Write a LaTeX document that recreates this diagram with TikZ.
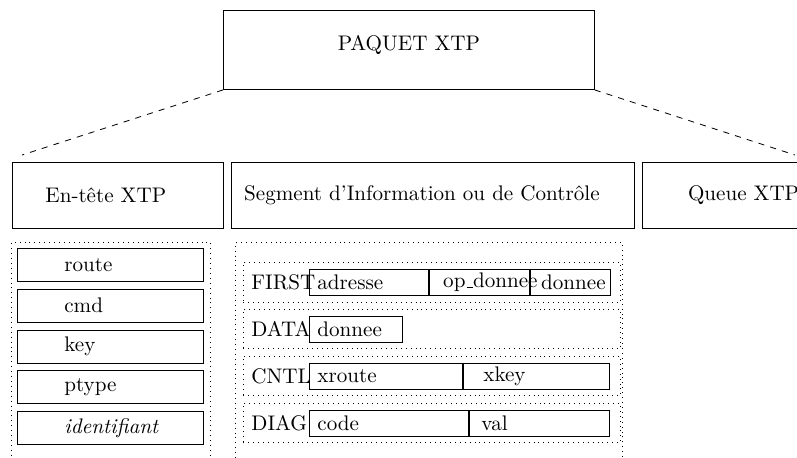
\documentclass[tikz,border=0pt]{standalone}
\usetikzlibrary{positioning}
\begin{document}
\begin{tikzpicture}[
    x=0.488pt,
    y=-0.488pt,
    every node/.style={font=\fontsize{10.3pt}{12.4pt}\selectfont},
    box/.style={
        draw,
        inner sep=0pt,
        minimum height=32.2pt,
        align=left
    },
    zone/.style={
        draw,
        dotted,
        inner sep=0pt,
        anchor=north west
    },
    slot/.style={
        draw,
        inner sep=0pt,
        text width=90.8pt,
        minimum height=16.1pt,
        align=left
    },
    band/.style={
        draw,
        dotted,
        inner sep=0pt,
        text width=184pt,
        minimum height=19.3pt,
        align=left
    },
    field/.style={
        draw,
        inner sep=0pt,
        minimum height=12.7pt,
        align=left
    }
]
\path[use as bounding box, clip] (0,0) rectangle (797,457);

% Packet and its three parts
\node[draw, minimum width=181pt, minimum height=38.6pt, text depth=6.8pt, anchor=north west] (paquet) at (223,10) {PAQUET XTP};
\node[box, text width=103pt, anchor=north west] (entete) at (12,162) {\hspace*{16.1pt}En-tête XTP};
\node[box, text width=196.7pt, right=3.4pt of entete] (segment) {\hspace*{6.3pt}Segment d'Information ou de Contrôle};
\node[box, text width=97.1pt, right=3.4pt of segment] (queue) {\hspace*{22.4pt}Queue XTP};

% Dotted zones
\node[zone, minimum width=97.1pt, minimum height=115pt] (headzone) at (11,242) {};
\node[zone, minimum width=188.9pt, minimum height=115pt] (segzone) at (235,242) {};

% Header fields
\node[slot, anchor=north west] (route) at (17,248) {\hspace*{22.9pt}route};
\node[slot, below=3.4pt of route] (cmd) {\hspace*{22.9pt}cmd};
\node[slot, below=3.4pt of cmd] (key) {\hspace*{22.9pt}key};
\node[slot, below=3.4pt of key] (ptype) {\hspace*{22.9pt}ptype};
\node[slot, below=3.4pt of ptype] (ident) {\hspace*{22.9pt}\textit{identifiant}};

% Segment types
\node[band, anchor=north west] (first) at (243,262) {\hspace*{3.9pt}FIRST};
\node[band, below=3.2pt of first] (data) {\hspace*{3.9pt}DATA};
\node[band, below=3.2pt of data] (cntl) {\hspace*{3.9pt}CNTL};
\node[band, below=3.2pt of cntl] (diag) {\hspace*{3.9pt}DIAG};

% Segment fields
\node[field, text width=58.1pt, right=32.2pt of first.west] (adresse) {\hspace*{3.9pt}adresse};
\node[field, text width=48.8pt, right=0pt of adresse] (opdonnee) {\hspace*{6.8pt}\mbox{op\kern.06em\rule{.3em}{.4pt}donnee}};
\node[field, text width=39pt, right=0pt of opdonnee] (donnee) {\hspace*{5.4pt}donnee};
\node[field, text width=45.4pt, right=32.2pt of data.west] (datadonnee) {\hspace*{3.9pt}donnee};
\node[field, text width=74.7pt, right=32.2pt of cntl.west] (xroute) {\hspace*{3.9pt}xroute};
\node[field, text width=71.2pt, right=0pt of xroute] (xkey) {\hspace*{9.8pt}xkey};
\node[field, text width=77.6pt, right=32.2pt of diag.west] (code) {\hspace*{3.9pt}code};
\node[field, text width=68.3pt, right=0pt of code] (val) {\hspace*{5.9pt}val};

% Links
\coordinate (lefttip) at (22,155);
\coordinate (righttip) at (795,155);
\draw[dashed] (paquet.south west) -- (lefttip);
\draw[dashed] (paquet.south east) -- (righttip);

\end{tikzpicture}
\end{document}
